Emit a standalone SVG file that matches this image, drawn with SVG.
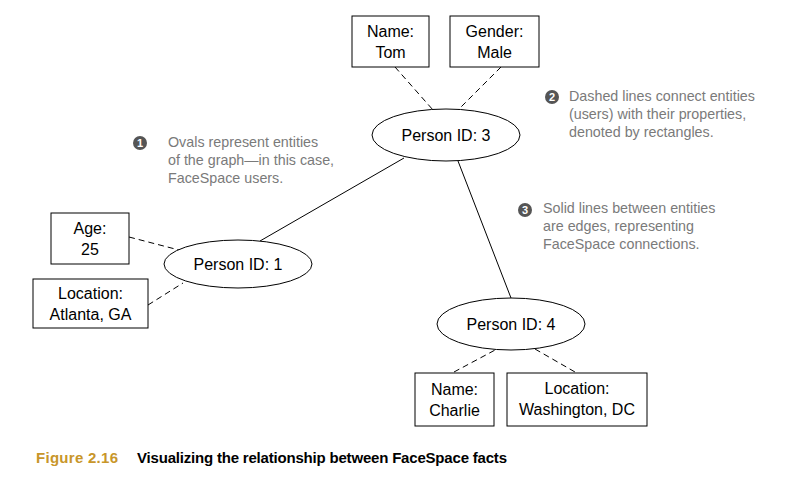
<svg xmlns="http://www.w3.org/2000/svg" width="804" height="483" viewBox="0 0 804 483">
<style>
.box{fill:#fff;stroke:#000;stroke-width:1}
.oval{fill:#fff;stroke:#000;stroke-width:1}
.t{font-family:"Liberation Sans",Arial,sans-serif;font-size:16px;fill:#000;text-anchor:middle}
.dash{stroke:#000;stroke-width:1;stroke-dasharray:6,4;fill:none}
.solid{stroke:#000;stroke-width:1;fill:none}
.note{font-family:"Liberation Sans",Arial,sans-serif;font-size:14.3px;fill:#7a7a7a}
.num{fill:#555}
.numt{font-family:"Liberation Sans",Arial,sans-serif;font-size:11px;font-weight:bold;fill:#fff;text-anchor:middle}
</style>
<rect width="804" height="483" fill="#fff"/>
<g id="connectors">
<line class="dash" x1="395" y1="67" x2="433" y2="110"/>
<line class="dash" x1="501" y1="67" x2="458" y2="110"/>
<line class="dash" x1="129" y1="237" x2="179" y2="250"/>
<line class="dash" x1="148" y1="305" x2="183" y2="283"/>
<line class="dash" x1="454" y1="372" x2="497" y2="349"/>
<line class="dash" x1="535" y1="349" x2="575" y2="372"/>
<line class="solid" x1="260" y1="241" x2="404" y2="158"/>
<line class="solid" x1="458" y1="161" x2="511" y2="298"/>
</g>
<g id="name-tom"><rect class="box" x="352" y="16" width="77" height="51"/><text class="t" x="390.5" y="37">Name:</text><text class="t" x="390.5" y="58">Tom</text></g>
<g id="gender-male"><rect class="box" x="450" y="16" width="89" height="51"/><text class="t" x="494.5" y="37">Gender:</text><text class="t" x="494.5" y="58">Male</text></g>
<g id="person3"><ellipse class="oval" cx="446" cy="135" rx="74" ry="26"/><text class="t" x="446" y="141">Person ID: 3</text></g>
<g id="age"><rect class="box" x="51" y="213" width="78" height="51"/><text class="t" x="90" y="234">Age:</text><text class="t" x="90" y="255">25</text></g>
<g id="location-atlanta"><rect class="box" x="33" y="279" width="115" height="49"/><text class="t" x="90.5" y="299">Location:</text><text class="t" x="90.5" y="320">Atlanta, GA</text></g>
<g id="person1"><ellipse class="oval" cx="238" cy="264" rx="74" ry="24"/><text class="t" x="238" y="270">Person ID: 1</text></g>
<g id="person4"><ellipse class="oval" cx="511" cy="324" rx="74" ry="26"/><text class="t" x="511" y="330">Person ID: 4</text></g>
<g id="name-charlie"><rect class="box" x="415" y="373" width="79" height="53"/><text class="t" x="454.5" y="395">Name:</text><text class="t" x="454.5" y="416">Charlie</text></g>
<g id="location-dc"><rect class="box" x="507" y="373" width="140" height="53"/><text class="t" x="577" y="394">Location:</text><text class="t" x="577" y="415">Washington, DC</text></g>
<g id="note1"><circle class="num" cx="140" cy="143" r="7"/><text class="numt" x="140" y="147">1</text>
<text class="note" x="168" y="147">Ovals represent entities</text>
<text class="note" x="168" y="165">of the graph—in this case,</text>
<text class="note" x="168" y="183">FaceSpace users.</text></g>
<g id="note2"><circle class="num" cx="552" cy="97" r="7"/><text class="numt" x="552" y="101">2</text>
<text class="note" x="569" y="101">Dashed lines connect entities</text>
<text class="note" x="569" y="119">(users) with their properties,</text>
<text class="note" x="569" y="137">denoted by rectangles.</text></g>
<g id="note3"><circle class="num" cx="525" cy="210" r="7"/><text class="numt" x="525" y="214">3</text>
<text class="note" x="543" y="213">Solid lines between entities</text>
<text class="note" x="543" y="231">are edges, representing</text>
<text class="note" x="543" y="249">FaceSpace connections.</text></g>
<g id="caption"><text x="36" y="463" font-family="Liberation Sans,Arial,sans-serif" font-size="15" font-weight="bold"><tspan fill="#c8962a" textLength="82">Figure 2.16</tspan><tspan x="137" fill="#000" textLength="370">Visualizing the relationship between FaceSpace facts</tspan></text></g>
</svg>
